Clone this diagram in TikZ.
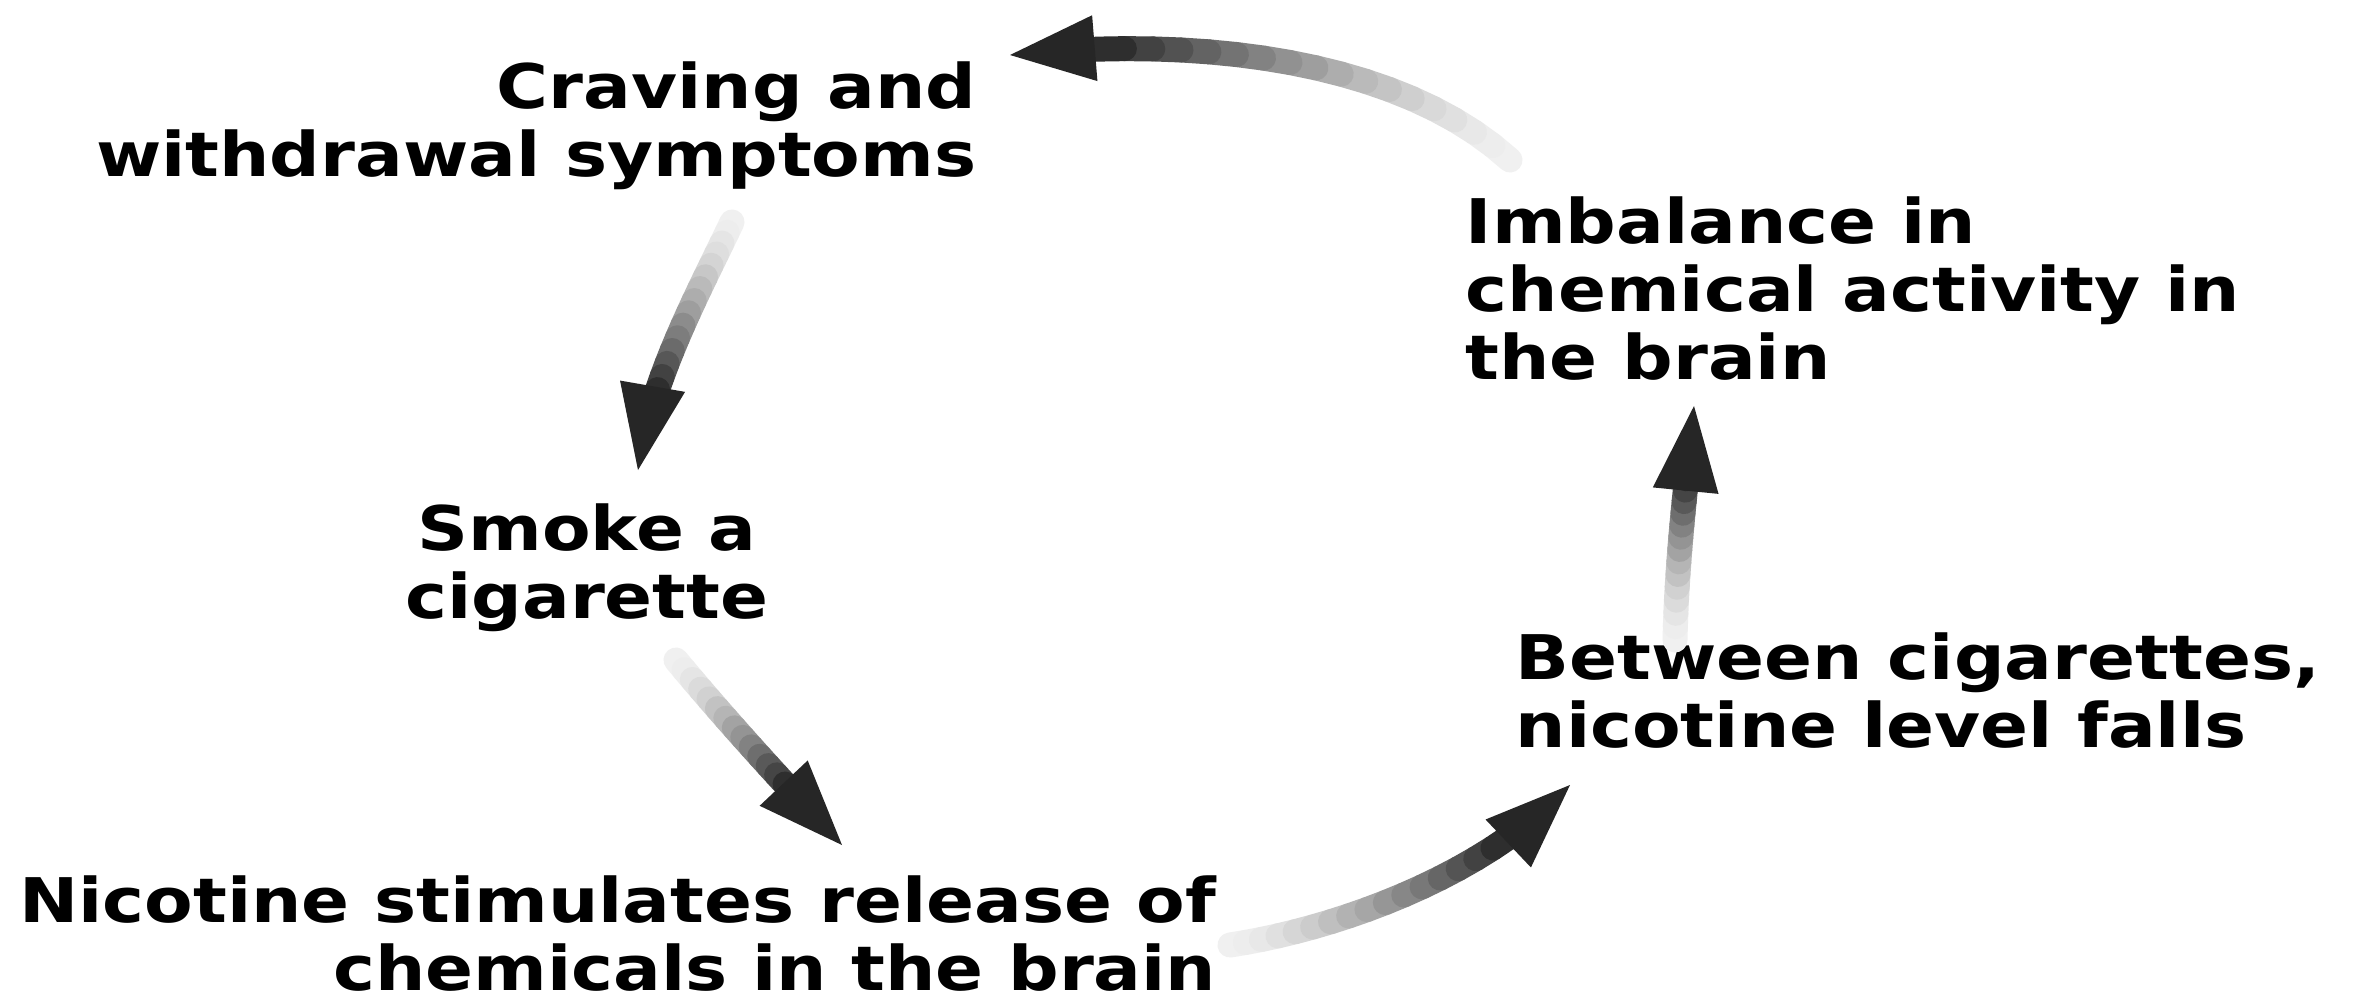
\documentclass[tikz,border=0pt]{standalone}
\usepackage{fontspec}
\setmainfont{DejaVu Sans}[FakeStretch=1.15]
\usetikzlibrary{calc}
\tikzset{
  lbl/.style={font=\bfseries\fontsize{17.5}{19.3}\selectfont, inner sep=0pt},
  shaft/.style={line width=2.5mm, line cap=round},
  headfill/.style={fill=black!85}
}
% #1 name, #2 start, #3 control 1, #4 control 2, #5 tip, #6 last shaft index
\newcommand\fadearrow[6]{%
  \foreach \k in {0,...,20}{\path (#2) .. controls (#3) and (#4) .. (#5) coordinate[pos=\k/20] (#1-\k);}
  \pgfmathtruncatemacro\lastk{#6-1}
  \foreach \k [evaluate=\k as \j using int(\k+1), evaluate=\k as \c using {int(6+76*(\k/\lastk)^1.5)}] in {0,...,\lastk}{
    \draw[shaft, black!\c] (#1-\k) -- (#1-\j);}
  \coordinate (#1-b) at ($(#5)!8.5mm!(#1-18)$);
  \fill[headfill] (#5) -- ($(#1-b)!3.3mm!90:(#5)$) -- ($(#1-b)!3.3mm!-90:(#5)$) -- cycle;
}
\begin{document}
\begin{tikzpicture}[x=0.01cm,y=-0.01cm]
\useasboundingbox (0,0) rectangle (2356,999);
\fill[white] (0,0) rectangle (2356,999);

\node[lbl, align=right, anchor=base east] (crave) at (977,176) {Craving and\\withdrawal symptoms};
\node[lbl, align=center, anchor=base] (smoke) at (587,618) {Smoke a\\cigarette};
\node[lbl, align=right, anchor=base east] (nic) at (1217,990) {Nicotine stimulates release of\\chemicals in the brain};
\node[lbl, align=left, anchor=base west] (betw) at (1515,747) {Between cigarettes,\\nicotine level falls};
\node[lbl, align=left, anchor=base west] (imb) at (1465,379) {Imbalance in\\chemical activity in\\the brain};

% arrow end points and controls
\coordinate (s1) at (1510,160); \coordinate (c1a) at (1400,60); \coordinate (c1b) at (1200,35); \coordinate (e1) at (1010,55);
\coordinate (s2) at (732,222); \coordinate (c2a) at (700,290); \coordinate (c2b) at (650,380); \coordinate (e2) at (638,470);
\coordinate (s3) at (676,660); \coordinate (c3a) at (730,725); \coordinate (c3b) at (790,790); \coordinate (e3) at (842,845);
\coordinate (s4) at (1230,945); \coordinate (c4a) at (1330,930); \coordinate (c4b) at (1480,880); \coordinate (e4) at (1570,785);
\coordinate (s5) at (1675,640); \coordinate (c5a) at (1677,550); \coordinate (c5b) at (1688,470); \coordinate (e5) at (1694,406);

\fadearrow{ar1}{s1}{c1a}{c1b}{e1}{17}
\fadearrow{ar2}{s2}{c2a}{c2b}{e2}{15}
\fadearrow{ar3}{s3}{c3a}{c3b}{e3}{14}
\fadearrow{ar4}{s4}{c4a}{c4b}{e4}{16}
\fadearrow{ar5}{s5}{c5a}{c5b}{e5}{14}
\end{tikzpicture}
\end{document}
